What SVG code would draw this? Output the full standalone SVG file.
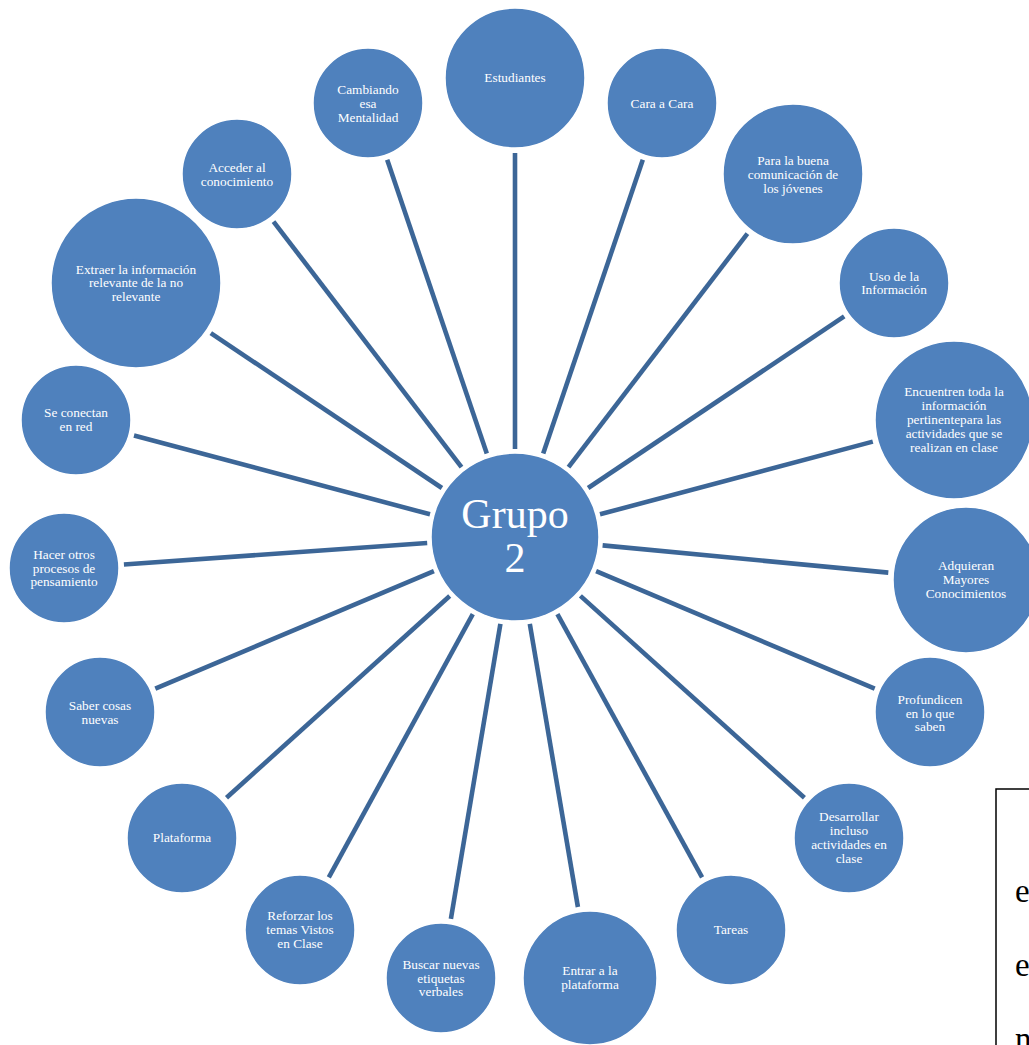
<svg xmlns="http://www.w3.org/2000/svg" width="1029" height="1045" viewBox="0 0 1029 1045">
  <style>
    .node circle { fill: #4f81bd; stroke: #ffffff; stroke-width: 1.5; }
    .node text { font-family: "Liberation Serif", "Times New Roman", serif; font-size: 13.3px; fill: #ffffff; text-anchor: middle; }
    .hub text { font-size: 42px; }
    #connectors line { stroke: #3c6697; stroke-width: 4.6; }
    .note { fill: none; stroke: #000000; stroke-width: 1.5; }
    .note-text { font-family: "Liberation Serif", "Times New Roman", serif; font-size: 33px; fill: #000000; }
  </style>

  <rect width="1029" height="1045" fill="#ffffff"/>

  <!-- spokes from the hub to each surrounding idea -->
  <g id="connectors">
    <line x1="515" y1="449" x2="515" y2="153"/>
    <line x1="486.8" y1="453.6" x2="387.2" y2="159.8"/>
    <line x1="543.2" y1="453.6" x2="642.8" y2="159.8"/>
    <line x1="461.5" y1="467.1" x2="273.5" y2="221.6"/>
    <line x1="568.5" y1="467.1" x2="747.4" y2="233.6"/>
    <line x1="441.9" y1="488" x2="210.8" y2="333.1"/>
    <line x1="588.1" y1="488" x2="844.2" y2="316.4"/>
    <line x1="430" y1="514.3" x2="134" y2="435.5"/>
    <line x1="600" y1="514.3" x2="872.8" y2="441.6"/>
    <line x1="427.2" y1="543" x2="123.9" y2="564.5"/>
    <line x1="602.6" y1="545.4" x2="888.3" y2="572.6"/>
    <line x1="433.9" y1="571.2" x2="155.3" y2="688.7"/>
    <line x1="596.1" y1="571.2" x2="874.7" y2="688.7"/>
    <line x1="449.7" y1="596" x2="226.5" y2="797.8"/>
    <line x1="580.4" y1="595.9" x2="804.4" y2="797.8"/>
    <line x1="472.8" y1="614.2" x2="328.8" y2="877.4"/>
    <line x1="557.4" y1="614.1" x2="702.1" y2="877.4"/>
    <line x1="500.4" y1="623.8" x2="450.9" y2="918.8"/>
    <line x1="529.8" y1="623.8" x2="577.9" y2="907"/>
  </g>

  <!-- hub -->
  <g id="grupo-2" class="node hub">
    <circle cx="515" cy="537" r="84"/>
    <text x="515" y="527.5">Grupo</text>
    <text x="515" y="571.5">2</text>
  </g>

  <!-- surrounding ideas, clockwise from the top -->
  <g id="estudiantes" class="node">
    <circle cx="515" cy="78" r="70"/>
    <text x="515" y="82">Estudiantes</text>
  </g>
  <g id="cara-a-cara" class="node">
    <circle cx="662" cy="103" r="55"/>
    <text x="662" y="107.5">Cara a Cara</text>
  </g>
  <g id="buena-comunicacion" class="node">
    <circle cx="793" cy="174" r="70"/>
    <text x="793" y="164.5">Para la buena</text>
    <text x="793" y="178.5">comunicación de</text>
    <text x="793" y="192.5">los jóvenes</text>
  </g>
  <g id="uso-informacion" class="node">
    <circle cx="894" cy="283" r="55"/>
    <text x="894" y="281">Uso de la</text>
    <text x="894" y="294">Información</text>
  </g>
  <g id="encuentren-informacion" class="node">
    <circle cx="954" cy="420" r="79"/>
    <text x="954" y="396">Encuentren toda la</text>
    <text x="954" y="410">información</text>
    <text x="954" y="424">pertinentepara las</text>
    <text x="954" y="438">actividades que se</text>
    <text x="954" y="452">realizan en clase</text>
  </g>
  <g id="mayores-conocimientos" class="node">
    <circle cx="966" cy="580" r="73"/>
    <text x="966" y="570">Adquieran</text>
    <text x="966" y="584">Mayores</text>
    <text x="966" y="598">Conocimientos</text>
  </g>
  <g id="profundicen" class="node">
    <circle cx="930" cy="712" r="55"/>
    <text x="930" y="704">Profundicen</text>
    <text x="930" y="717.5">en lo que</text>
    <text x="930" y="731">saben</text>
  </g>
  <g id="desarrollar-actividades" class="node">
    <circle cx="849" cy="838" r="55"/>
    <text x="849" y="821">Desarrollar</text>
    <text x="849" y="835">incluso</text>
    <text x="849" y="849">actividades en</text>
    <text x="849" y="863">clase</text>
  </g>
  <g id="tareas" class="node">
    <circle cx="731" cy="930" r="55"/>
    <text x="731" y="934">Tareas</text>
  </g>
  <g id="entrar-plataforma" class="node">
    <circle cx="590" cy="978" r="67"/>
    <text x="590" y="975">Entrar a la</text>
    <text x="590" y="989">plataforma</text>
  </g>
  <g id="etiquetas-verbales" class="node">
    <circle cx="441" cy="978" r="55"/>
    <text x="441" y="968.5">Buscar nuevas</text>
    <text x="441" y="982.5">etiquetas</text>
    <text x="441" y="996">verbales</text>
  </g>
  <g id="reforzar-temas" class="node">
    <circle cx="300" cy="930" r="55"/>
    <text x="300" y="920">Reforzar los</text>
    <text x="300" y="934">temas Vistos</text>
    <text x="300" y="947.5">en Clase</text>
  </g>
  <g id="plataforma" class="node">
    <circle cx="182" cy="838" r="55"/>
    <text x="182" y="842">Plataforma</text>
  </g>
  <g id="saber-cosas-nuevas" class="node">
    <circle cx="100" cy="712" r="55"/>
    <text x="100" y="710">Saber cosas</text>
    <text x="100" y="724">nuevas</text>
  </g>
  <g id="procesos-pensamiento" class="node">
    <circle cx="64" cy="568" r="55"/>
    <text x="64" y="559">Hacer otros</text>
    <text x="64" y="573">procesos de</text>
    <text x="64" y="586">pensamiento</text>
  </g>
  <g id="se-conectan" class="node">
    <circle cx="76" cy="420" r="55"/>
    <text x="76" y="417">Se conectan</text>
    <text x="76" y="431">en red</text>
  </g>
  <g id="extraer-informacion" class="node">
    <circle cx="136" cy="283" r="85"/>
    <text x="136" y="273.5">Extraer la información</text>
    <text x="136" y="287">relevante de la no</text>
    <text x="136" y="300.5">relevante</text>
  </g>
  <g id="acceder-conocimiento" class="node">
    <circle cx="237" cy="174" r="55"/>
    <text x="237" y="171.5">Acceder al</text>
    <text x="237" y="185.5">conocimiento</text>
  </g>
  <g id="cambiando-mentalidad" class="node">
    <circle cx="368" cy="103" r="55"/>
    <text x="368" y="93.5">Cambiando</text>
    <text x="368" y="107.5">esa</text>
    <text x="368" y="121.5">Mentalidad</text>
  </g>

  <!-- text box running off the lower right corner -->
  <g id="text-box">
    <rect class="note" x="996" y="789" width="60" height="280"/>
    <text class="note-text" x="1015" y="902">e</text>
    <text class="note-text" x="1015" y="976">e</text>
    <text class="note-text" x="1015" y="1050">n</text>
  </g>
</svg>
